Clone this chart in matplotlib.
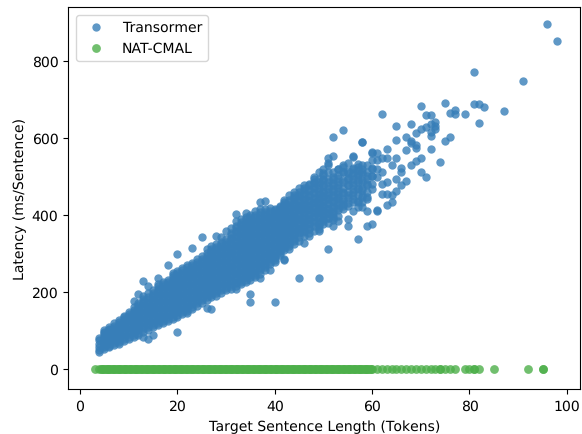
import matplotlib
matplotlib.use("Agg")
import matplotlib.pyplot as plt

plt.rcParams['text.hinting'] = 'none'
plt.rcParams['text.hinting_factor'] = 1

# latency readings, one list per target length
tr_lengths = list(range(4, 84)) + [87, 91, 96, 98]
tr_latency = [
    [43, 50, 58, 66, 74, 80],
    [52, 60, 68, 76, 84, 92, 100],
    [56, 64, 72, 80, 88, 96, 104, 110],
    [62, 72, 82, 92, 102, 112, 118],
    [66, 76, 86, 96, 106, 116, 126],
    [72, 84, 96, 108, 120, 130, 138],
    [78, 90, 102, 114, 126, 138, 148],
    [82, 94, 106, 118, 130, 142, 152, 160, 175],
    [88, 100, 112, 124, 136, 148, 160, 170, 195],
    [82, 97, 110, 122, 134, 146, 158, 170, 182, 190, 229],
    [78, 102, 114, 126, 138, 150, 162, 174, 186, 196, 216],
    [89, 108, 120, 132, 144, 156, 168, 180, 192, 204],
    [113, 124, 136, 148, 160, 172, 184, 196, 208, 220, 236],
    [118, 130, 142, 154, 166, 178, 190, 202, 214, 226],
    [124, 136, 148, 160, 172, 184, 196, 208, 220, 232, 270],
    [130, 142, 154, 166, 178, 190, 202, 214, 226, 238, 248],
    [95, 135, 147, 159, 171, 183, 195, 207, 219, 231, 243, 255, 297],
    [142, 154, 166, 178, 190, 202, 214, 226, 238, 250, 262],
    [145, 150, 162, 174, 186, 198, 210, 222, 234, 246, 258, 270],
    [156, 168, 180, 192, 204, 216, 228, 240, 252, 264, 276, 315],
    [164, 176, 188, 200, 212, 224, 236, 248, 260, 272, 284],
    [172, 184, 196, 208, 220, 232, 244, 256, 268, 280, 292, 342],
    [158, 180, 192, 204, 216, 228, 240, 252, 264, 276, 288, 300, 312],
    [156, 186, 198, 210, 222, 234, 246, 258, 270, 282, 294, 306, 320],
    [190, 202, 214, 226, 238, 250, 262, 274, 286, 298, 310, 324, 344],
    [198, 210, 222, 234, 246, 258, 270, 282, 294, 306, 318, 330, 342],
    [204, 216, 228, 240, 252, 264, 276, 288, 300, 312, 324, 336, 358],
    [208, 220, 232, 244, 256, 268, 280, 292, 304, 316, 328, 340, 352, 366],
    [208, 222, 234, 246, 258, 270, 282, 294, 306, 318, 330, 342, 354, 366, 385, 402],
    [220, 232, 244, 256, 268, 280, 292, 304, 316, 328, 340, 352, 364, 376, 388],
    [226, 238, 250, 262, 274, 286, 298, 310, 322, 334, 346, 358, 370, 382, 394, 405],
    [173, 195, 232, 244, 256, 268, 280, 292, 304, 316, 328, 340, 352, 364, 376, 388, 400],
    [238, 250, 262, 274, 286, 298, 310, 322, 334, 346, 358, 370, 382, 394, 411],
    [237, 247, 256, 268, 280, 292, 304, 316, 328, 340, 352, 364, 376, 388, 400, 414, 433],
    [258, 270, 282, 294, 306, 318, 330, 342, 354, 366, 378, 390, 402, 416, 437],
    [258, 272, 284, 296, 308, 320, 332, 344, 356, 368, 380, 392, 404, 418],
    [173, 277, 288, 300, 312, 324, 336, 348, 360, 372, 384, 396, 408, 413],
    [295, 306, 318, 330, 342, 354, 366, 378, 390, 402, 414, 424],
    [283, 285, 308, 320, 332, 344, 356, 368, 380, 392, 404, 416, 428, 438],
    [312, 324, 336, 348, 360, 372, 384, 396, 408, 420, 432, 452],
    [325, 332, 344, 356, 368, 380, 392, 404, 416, 428, 440, 450],
    [237, 332, 342, 354, 366, 378, 390, 402, 414, 426, 438, 450, 469],
    [327, 346, 358, 370, 382, 394, 406, 418, 430, 442, 456, 470],
    [344, 352, 364, 376, 388, 400, 412, 424, 436, 448, 462, 476],
    [358, 372, 384, 396, 408, 420, 432, 444, 458, 472, 486, 498],
    [237, 359, 370, 382, 394, 406, 418, 430, 442, 454, 470, 484],
    [375, 388, 400, 412, 424, 436, 448, 460, 476, 490, 502, 520],
    [312, 378, 392, 404, 416, 428, 440, 452, 468, 484, 528, 546],
    [372, 386, 398, 410, 422, 436, 450, 466, 482, 498, 552, 603],
    [385, 398, 412, 426, 440, 454, 470, 486, 502, 520],
    [415, 424, 436, 458, 486, 510, 530, 621],
    [371, 388, 424, 450, 476, 492, 508, 534],
    [410, 432, 450, 468, 486, 503, 520, 551, 552],
    [338, 437, 467, 486, 503, 516, 525, 533],
    [433, 450, 470, 490, 510, 529, 588, 590],
    [371, 411, 447, 477, 494, 510, 529],
    [377, 467, 500, 522, 541, 561, 563],
    [411, 413, 498, 519, 541, 561],
    [455, 480, 510, 548, 661],
    [426, 453, 485, 546, 571],
    [433, 450, 529],
    [462, 494, 548, 595, 629],
    [476, 511, 522],
    [488, 569, 603],
    [530, 585, 592, 636],
    [539, 572, 581, 612],
    [511, 548, 623, 681],
    [499, 627, 658],
    [570, 605, 615, 636, 658],
    [623, 630, 640],
    [538],
    [592, 689],
    [602, 665],
    [662, 671],
    [],
    [661],
    [],
    [770, 687],
    [638, 687],
    [680],
    [670],
    [747],
    [894],
    [852],
]

# more readings from inside the dense band, lengths 5 to 60
core_lengths = list(range(5, 61))
core_latency = [
    [56, 64, 72, 80, 88, 96],
    [60, 68, 76, 84, 92, 100],
    [67, 77, 87, 97, 107],
    [71, 81, 91, 101, 111, 121],
    [78, 90, 102, 114, 125, 134],
    [84, 96, 108, 120, 132, 143],
    [88, 100, 112, 124, 136, 148],
    [94, 106, 118, 130, 142, 154, 165],
    [104, 116, 128, 140, 152, 164, 176],
    [108, 120, 132, 144, 156, 168, 180],
    [114, 126, 138, 150, 162, 174, 186, 198],
    [118, 130, 142, 154, 166, 178, 190, 202, 214],
    [124, 136, 148, 160, 172, 184, 196, 208, 220],
    [130, 142, 154, 166, 178, 190, 202, 214, 226],
    [136, 148, 160, 172, 184, 196, 208, 220, 232, 244],
    [141, 153, 165, 177, 189, 201, 213, 225, 237, 249],
    [148, 160, 172, 184, 196, 208, 220, 232, 244, 256],
    [156, 168, 180, 192, 204, 216, 228, 240, 252, 264],
    [162, 174, 186, 198, 210, 222, 234, 246, 258, 270],
    [170, 182, 194, 206, 218, 230, 242, 254, 266, 278],
    [178, 190, 202, 214, 226, 238, 250, 262, 274, 286],
    [186, 198, 210, 222, 234, 246, 258, 270, 282, 294],
    [192, 204, 216, 228, 240, 252, 264, 276, 288, 300, 312],
    [196, 208, 220, 232, 244, 256, 268, 280, 292, 304, 316],
    [204, 216, 228, 240, 252, 264, 276, 288, 300, 312, 324],
    [210, 222, 234, 246, 258, 270, 282, 294, 306, 318, 330],
    [216, 228, 240, 252, 264, 276, 288, 300, 312, 324, 336, 348],
    [214, 226, 238, 250, 262, 274, 286, 298, 310, 322, 334, 346, 358, 372],
    [226, 238, 250, 262, 274, 286, 298, 310, 322, 334, 346, 358, 370, 382],
    [232, 244, 256, 268, 280, 292, 304, 316, 328, 340, 352, 364, 376, 388],
    [238, 250, 262, 274, 286, 298, 310, 322, 334, 346, 358, 370, 382, 394],
    [244, 256, 268, 280, 292, 304, 316, 328, 340, 352, 364, 376, 388, 400],
    [262, 274, 286, 298, 310, 322, 334, 346, 358, 370, 382, 394, 406],
    [264, 276, 288, 300, 312, 324, 336, 348, 360, 372, 384, 396, 408],
    [278, 290, 302, 314, 326, 338, 350, 362, 374, 386, 398, 410],
    [282, 294, 306, 318, 330, 342, 354, 366, 378, 390, 402, 414],
    [300, 312, 324, 336, 348, 360, 372, 384, 396, 408, 420],
    [314, 326, 338, 350, 362, 374, 386, 398, 410, 422, 434],
    [318, 330, 342, 354, 366, 378, 390, 402, 414, 426, 438],
    [338, 350, 362, 374, 386, 398, 410, 422, 434, 446, 458],
    [352, 364, 376, 388, 400, 412, 424, 436, 448, 460],
    [354, 366, 378, 390, 402, 414, 426, 438, 450, 464, 478],
    [366, 378, 390, 402, 414, 426, 438, 452, 466, 480],
    [378, 394, 406, 418, 430, 442, 456, 470, 482, 494],
    [364, 376, 394, 406, 418, 430, 444, 460, 476, 494, 510],
    [384, 398, 410, 422, 434, 446, 458, 474, 492, 508],
    [392, 404, 416, 430, 444, 458, 474, 492, 512, 535],
    [392, 404, 418, 432, 446, 462, 478, 494, 510],
    [418, 432, 446, 462, 478, 496, 518],
    [428, 442, 456, 470, 490, 512, 524],
    [430, 444, 460, 478, 496, 514],
    [440, 458, 476, 494, 508, 522],
    [420, 432, 450, 470, 490, 505],
    [420, 445, 465, 485, 505, 520],
    [440, 460, 480, 500],
    [480, 500, 520],
]

# solid part of the row, read as continuous rather than per token
nat_lengths = [3, 4, 5, 6, 7, 8, 9, 10, 11, 12,
               13, 14, 15, 16, 17, 18, 19, 20, 21, 22,
               23, 24, 25, 26, 27, 28, 29, 30, 31, 32,
               33, 34, 35, 36, 37, 38, 39, 40, 41, 42,
               43, 44, 45, 46, 47, 48, 49, 50, 51, 52,
               53, 54, 55, 56, 57, 58, 59, 60, 61, 62,
               63, 64, 65, 66, 67, 68, 69, 70, 71, 72,
               73, 74, 74, 75, 76, 77, 79, 80, 81, 81,
               82, 85, 92, 95, 95,
               4.5, 5.5, 6.5, 7.5, 8.5, 9.5, 10.5, 11.5, 12.5, 13.5,
               14.5, 15.5, 16.5, 17.5, 18.5, 19.5, 20.5, 21.5, 22.5, 23.5,
               24.5, 25.5, 26.5, 27.5, 28.5, 29.5, 30.5, 31.5, 32.5, 33.5,
               34.5, 35.5, 36.5, 37.5, 38.5, 39.5, 40.5, 41.5, 42.5, 43.5,
               44.5, 45.5, 46.5, 47.5, 48.5, 49.5, 50.5, 51.5, 52.5, 53.5,
               54.5, 55.5, 56.5, 57.5, 58.5, 59.5,
               4.25, 5.25, 6.25, 7.25, 8.25, 9.25, 10.25, 11.25, 12.25, 13.25,
               14.25, 15.25, 16.25, 17.25, 18.25, 19.25, 20.25, 21.25, 22.25, 23.25,
               24.25, 25.25, 26.25, 27.25, 28.25, 29.25, 30.25, 31.25, 32.25, 33.25,
               34.25, 35.25, 36.25, 37.25, 38.25, 39.25, 40.25, 41.25, 42.25, 43.25,
               44.25, 45.25, 46.25, 47.25, 48.25, 49.25, 50.25, 51.25, 52.25, 53.25,
               54.25, 55.25, 56.25, 57.25, 58.25, 59.25,
               4.75, 5.75, 6.75, 7.75, 8.75, 9.75, 10.75, 11.75, 12.75, 13.75,
               14.75, 15.75, 16.75, 17.75, 18.75, 19.75, 20.75, 21.75, 22.75, 23.75,
               24.75, 25.75, 26.75, 27.75, 28.75, 29.75, 30.75, 31.75, 32.75, 33.75,
               34.75, 35.75, 36.75, 37.75, 38.75, 39.75, 40.75, 41.75, 42.75, 43.75,
               44.75, 45.75, 46.75, 47.75, 48.75, 49.75, 50.75, 51.75, 52.75, 53.75,
               54.75, 55.75, 56.75, 57.75, 58.75, 59.75]
nat_latency = [0, 0, 0, 0, 0, 0, 0, 0, 0, 0,
               0, 0, 0, 0, 0, 0, 0, 0, 0, 0,
               0, 0, 0, 0, 0, 0, 0, 0, 0, 0,
               0, 0, 0, 0, 0, 0, 0, 0, 0, 0,
               0, 0, 0, 0, 0, 0, 0, 0, 0, 0,
               0, 0, 0, 0, 0, 0, 0, 0, 0, 0,
               0, 0, 0, 0, 0, 0, 0, 0, 0, 0,
               0, 0, 0, 0, 0, 0, 0, 0, 0, 0,
               0, 0, 0, 0, 0,
               0, 0, 0, 0, 0, 0, 0, 0, 0, 0,
               0, 0, 0, 0, 0, 0, 0, 0, 0, 0,
               0, 0, 0, 0, 0, 0, 0, 0, 0, 0,
               0, 0, 0, 0, 0, 0, 0, 0, 0, 0,
               0, 0, 0, 0, 0, 0, 0, 0, 0, 0,
               0, 0, 0, 0, 0, 0,
               0, 0, 0, 0, 0, 0, 0, 0, 0, 0,
               0, 0, 0, 0, 0, 0, 0, 0, 0, 0,
               0, 0, 0, 0, 0, 0, 0, 0, 0, 0,
               0, 0, 0, 0, 0, 0, 0, 0, 0, 0,
               0, 0, 0, 0, 0, 0, 0, 0, 0, 0,
               0, 0, 0, 0, 0, 0,
               0, 0, 0, 0, 0, 0, 0, 0, 0, 0,
               0, 0, 0, 0, 0, 0, 0, 0, 0, 0,
               0, 0, 0, 0, 0, 0, 0, 0, 0, 0,
               0, 0, 0, 0, 0, 0, 0, 0, 0, 0,
               0, 0, 0, 0, 0, 0, 0, 0, 0, 0,
               0, 0, 0, 0, 0, 0]

x = []
y = []
for n, vals in zip(tr_lengths, tr_latency):
    for v in vals:
        x.append(n)
        y.append(v)
for n, vals in zip(core_lengths, core_latency):
    for v in vals:
        x.append(n)
        y.append(v)

fig = plt.figure(figsize=(5.82, 4.35), dpi=100)
ax = fig.add_axes([68 / 582, 45 / 435, 512 / 582, 382 / 435])
ax.scatter(x, y, s=36, c='#377eb8', alpha=0.8, linewidths=0, label='Transormer')
ax.scatter(nat_lengths, nat_latency, s=40, c='#4daf4a', alpha=0.8, linewidths=0, label='NAT-CMAL')
ax.set_xlim(-2.47, 102.7)
ax.set_ylim(-52, 939)
ax.set_xticks([0, 20, 40, 60, 80, 100])
ax.set_yticks([0, 200, 400, 600, 800])
ax.tick_params(labelsize=10.2)
ax.set_xlabel('Target Sentence Length (Tokens)', fontsize=10.3, labelpad=5)
ax.set_ylabel('Latency (ms/Sentence)', fontsize=10.4, labelpad=3)
ax.legend(loc='upper left', fontsize=10.3, handletextpad=0.8, borderaxespad=0.55)
fig.savefig('out.png', dpi=100)
